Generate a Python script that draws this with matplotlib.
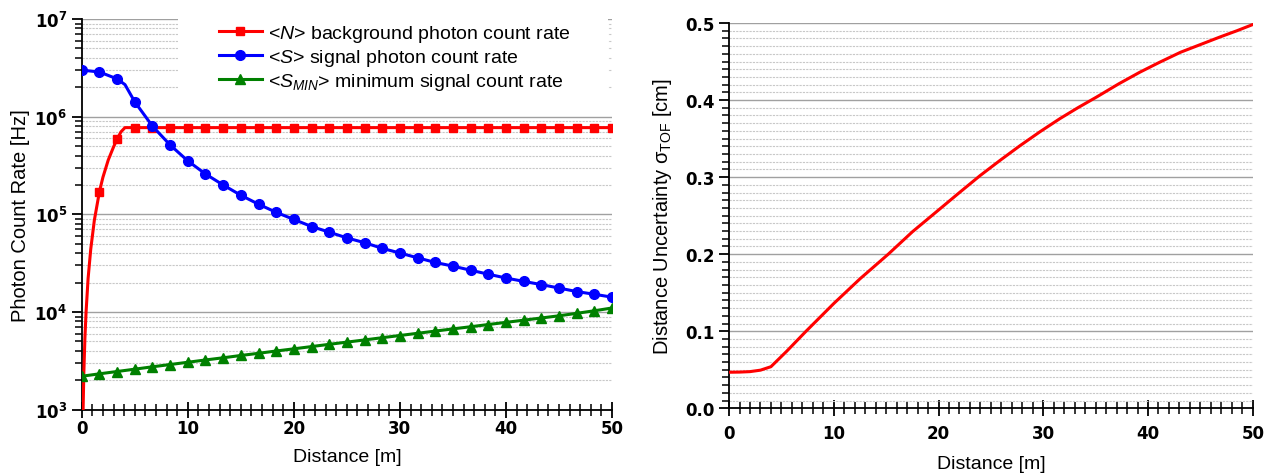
import math
import matplotlib
matplotlib.use("Agg")
import matplotlib.pyplot as plt
from matplotlib.ticker import MultipleLocator, LogLocator, FuncFormatter, NullFormatter
from matplotlib.patches import Rectangle

plt.rcParams['font.family'] = ['Liberation Sans', 'DejaVu Sans']
plt.rcParams['mathtext.fontset'] = 'custom'
plt.rcParams['mathtext.rm'] = 'Liberation Sans'
plt.rcParams['mathtext.it'] = 'Liberation Sans:italic'
plt.rcParams['mathtext.bf'] = 'DejaVu Sans:bold'

# marker positions (distance in m)
dist = [0, 1.67, 3.33, 5, 6.67, 8.33, 10, 11.67, 13.33, 15, 16.67, 18.33, 20, 21.67, 23.33, 25,
        26.67, 28.33, 30, 31.67, 33.33, 35, 36.67, 38.33, 40, 41.67, 43.33, 45, 46.67, 48.33, 50]

# <N> background photon count rate (line drawn through extra points near 0)
N_dist = [0.08, 0.13, 0.2, 0.3, 0.41, 0.6, 0.85, 1.19, 1.67, 2.0, 2.5, 3.0, 3.33, 3.7, 4.08] + dist[3:]
N_rate = [400, 1000, 2400, 5400, 1.0e4, 2.2e4, 4.4e4, 8.7e4, 1.71e5, 2.4e5, 3.6e5, 4.9e5, 5.88e5,
          7.0e5, 7.73e5] + [7.73e5] * 28

# <S> signal photon count rate
S_dist = dist[:3] + [4.08] + dist[3:]
S_rate = [3.0e6, 2.87e6, 2.44e6, 2.13e6, 1.42e6, 8.0e5, 5.14e5, 3.53e5, 2.59e5, 2.0e5, 1.57e5, 1.27e5,
          1.05e5, 8.87e4, 7.51e4, 6.58e4, 5.74e4, 5.13e4, 4.49e4, 4.02e4, 3.59e4, 3.22e4, 2.95e4,
          2.68e4, 2.44e4, 2.23e4, 2.06e4, 1.91e4, 1.76e4, 1.62e4, 1.52e4, 1.42e4]

# <S_MIN> minimum signal count rate
Smin_rate = [2.2e3, 2.33e3, 2.46e3, 2.6e3, 2.75e3, 2.9e3, 3.06e3, 3.23e3, 3.4e3, 3.59e3, 3.78e3,
             3.99e3, 4.2e3, 4.43e3, 4.67e3, 4.92e3, 5.18e3, 5.46e3, 5.75e3, 6.06e3, 6.38e3, 6.72e3,
             7.07e3, 7.45e3, 7.84e3, 8.25e3, 8.69e3, 9.15e3, 9.7e3, 1.03e4, 1.1e4]

# sigma_TOF distance uncertainty [cm]
T_dist = [0, 1, 2, 3, 4.0, 5.5, 7.35, 10, 12.5, 15.2, 17.5, 20.15, 22, 23.97, 25.9, 27.8, 29.7,
          31.6, 33.3, 35.1, 37.2, 39.2, 41.1, 43.1, 45, 46.9, 48.5, 50]
T_sigma = [0.0468, 0.047, 0.0476, 0.0495, 0.054, 0.074, 0.100, 0.136, 0.168, 0.200, 0.229, 0.259,
           0.280, 0.302, 0.322, 0.341, 0.359, 0.376, 0.390, 0.404, 0.421, 0.436, 0.449, 0.462,
           0.472, 0.482, 0.490, 0.498]

labels = [r'<$N$> background photon count rate',
          r'<$S$> signal photon count rate',
          r'<$S_{MIN}$> minimum signal count rate']

fig = plt.figure(figsize=(12.69, 4.77), dpi=100)
ax1 = fig.add_axes([0.0644, 0.139, 0.4179, 0.819])
ax2 = fig.add_axes([0.5745, 0.1419, 0.4127, 0.8078])


def style_axis(ax, xpad, xlabelpad):
    for s in ['top', 'right']:
        ax.spines[s].set_visible(False)
    for s in ['left', 'bottom']:
        ax.spines[s].set_linewidth(1.3)
    ax.set_axisbelow(True)
    ax.set_xlim(0, 50)
    ax.xaxis.set_major_locator(MultipleLocator(10))
    ax.xaxis.set_minor_locator(MultipleLocator(1))
    ax.tick_params(axis='x', which='major', direction='inout', length=12, width=1.3, pad=xpad)
    ax.tick_params(axis='x', which='minor', direction='inout', length=8, width=1.1)
    ax.tick_params(axis='y', which='major', direction='out', length=7, width=1.3, pad=3.5)
    ax.tick_params(axis='y', which='minor', direction='out', length=5, width=1.1)
    ax.grid(True, axis='y', which='major', color='#a0a0a0', lw=1.0, ls='-')
    ax.grid(True, axis='y', which='minor', color='#c8c8c8', lw=0.8, ls=(0, (2, 1)))
    ax.set_xlabel('Distance [m]', fontsize=14, labelpad=xlabelpad)
    for lab in ax.get_xticklabels() + ax.get_yticklabels():
        lab.set_fontfamily('DejaVu Sans')
        lab.set_fontweight('bold')
        lab.set_fontsize(12)


# left panel
mk_N = [i for i, x in enumerate(N_dist) if x in dist]
mk_S = [i for i, x in enumerate(S_dist) if x in dist]
ax1.plot(N_dist, N_rate, color='#ff0000', lw=2.2, marker='s', ms=6, markevery=mk_N, label=labels[0], zorder=3)
ax1.plot(S_dist, S_rate, color='#0000ff', lw=2.2, marker='o', ms=7, markevery=mk_S, label=labels[1], zorder=3)
ax1.plot(dist, Smin_rate, color='#008000', lw=2.2, marker='^', ms=7, label=labels[2], zorder=3)
ax1.set_yscale('log')
ax1.set_ylim(1e3, 1e7)
ax1.yaxis.set_major_locator(LogLocator(base=10, numticks=10))
ax1.yaxis.set_minor_locator(LogLocator(base=10, subs=range(2, 10), numticks=20))
ax1.yaxis.set_minor_formatter(NullFormatter())
ax1.yaxis.set_major_formatter(FuncFormatter(lambda v, p: r'$\mathbf{10^{%d}}$' % round(math.log10(v))))
style_axis(ax1, 0.5, 8)
ax1.set_ylabel('Photon Count Rate [Hz]', fontsize=14.5, labelpad=3)
ax1.add_patch(Rectangle((0.1816, 0.795), 0.811, 0.205, transform=ax1.transAxes,
                        facecolor='white', edgecolor='none', zorder=1))
ax1.legend(loc='upper left', bbox_to_anchor=(0.226, 1.035), frameon=False, fontsize=14,
           numpoints=1, handlelength=2.2, handletextpad=0.3, labelspacing=0.15)

# right panel
ax2.plot(T_dist, T_sigma, color='#ff0000', lw=2.2, zorder=3)
ax2.set_ylim(0, 0.5)
ax2.yaxis.set_major_locator(MultipleLocator(0.1))
ax2.yaxis.set_minor_locator(MultipleLocator(0.01))
ax2.yaxis.set_major_formatter(FuncFormatter(lambda v, p: '%.1f' % v))
style_axis(ax2, 5, 10)
ax2.set_ylabel(r'Distance Uncertainty σ$_{\mathrm{TOF}}$ [cm]', fontsize=14.5, labelpad=8)

fig.savefig('out.png', dpi=100)
